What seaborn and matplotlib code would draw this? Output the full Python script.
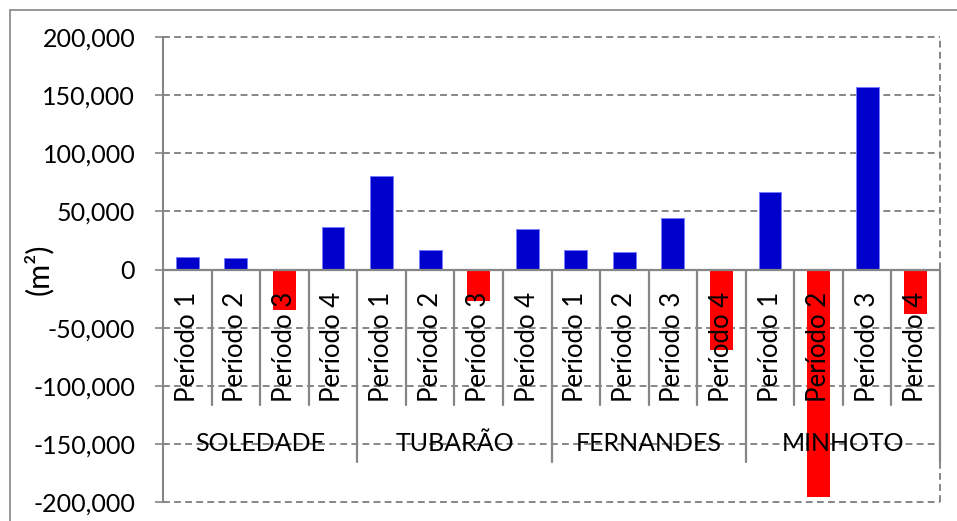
import matplotlib
matplotlib.use("Agg")
import matplotlib.pyplot as plt
from matplotlib.lines import Line2D
from matplotlib.ticker import FuncFormatter, MultipleLocator
import seaborn as sns
import pandas as pd

# Area change per period at each site
sites = ["SOLEDADE", "TUBARÃO", "FERNANDES", "MINHOTO"]
periods = ["Período 1", "Período 2", "Período 3", "Período 4"]
soledade = [10600, 10300, -34500, 36200]
tubarao = [80200, 16400, -27000, 34500]
fernandes = [16700, 14900, 44500, -69000]
minhoto = [66400, -196000, 157400, -38000]

values = soledade + tubarao + fernandes + minhoto
rows = []
for s_i, site in enumerate(sites):
    for p_i, per in enumerate(periods):
        v = values[s_i * 4 + p_i]
        rows.append({"slot": f"{site}|{per}", "site": site, "period": per,
                     "area": v, "sign": "pos" if v >= 0 else "neg"})
df = pd.DataFrame(rows)

sns.set_theme(style="white")
plt.rcParams["font.family"] = ["Lato", "DejaVu Sans"]

GRAY = "#868686"
fig = plt.figure(figsize=(9.57, 5.21), dpi=100)
ax = fig.add_axes([163 / 957, 19 / 521, 777 / 957, 465 / 521])

sns.barplot(data=df, x="slot", y="area", hue="sign", order=list(df["slot"]),
            palette={"pos": "#0000CC", "neg": "#FF0000"}, width=0.47,
            legend=False, ax=ax, zorder=3, saturation=1)
for patch in ax.patches:
    if patch.get_height() > 0:
        patch.set_edgecolor("#7a7aff")
        patch.set_linewidth(0.7)
    else:
        patch.set_linewidth(0)

ax.set_xlim(-0.5, 15.5)
ax.set_ylim(-200000, 200000)
ax.yaxis.set_major_locator(MultipleLocator(50000))
ax.yaxis.set_major_formatter(FuncFormatter(lambda v, p: f"{v:,.0f}"))
ax.tick_params(axis="y", labelsize=18, length=6, width=1.2, color=GRAY,
               pad=14, left=True, labelcolor="black")
ax.set_xticks([])
ax.set_xlabel("")

# dashed horizontal gridlines and right border
dash = (0, (3.5, 2.2))
ax.yaxis.grid(True, color=GRAY, linestyle=dash, linewidth=1.4, zorder=0)
for gl in ax.get_ygridlines():
    gl.set_clip_on(False)
ax.axvline(15.5, color=GRAY, linestyle=dash, linewidth=1.4, clip_on=False, zorder=1)
ax.set_axisbelow(True)

for side in ["top", "right", "bottom"]:
    ax.spines[side].set_visible(False)
ax.spines["left"].set_color(GRAY)
ax.spines["left"].set_linewidth(1.5)

# category axis at zero
ax.axhline(0, color=GRAY, linewidth=1.6, zorder=4)

# separators between periods and between sites
for i in range(16):
    x = i + 0.5
    if i == 15 or (i + 1) % 4 == 0:
        ax.plot([x, x], [0, -165500], color=GRAY, linewidth=1.6, zorder=4, clip_on=False)
    else:
        ax.plot([x, x], [0, -116500], color=GRAY, linewidth=1.6, zorder=4)

# period labels along the zero line
for i, per in enumerate(df["period"]):
    ax.text(i, -19000, per, rotation=90, ha="center", va="top",
            fontsize=18.5, color="black", zorder=5)

# site labels
for s_i, site in enumerate(sites):
    ax.text(s_i * 4 + 1.5, -150000, site, ha="center", va="center",
            fontsize=18, color="black", zorder=5)

ax.set_ylabel("(m²)", fontsize=22, va="center", color="black")
ax.yaxis.set_label_coords(-0.161, 0.5)

# chart frame
fig.add_artist(Line2D([10 / 957, 10 / 957], [0, 1 - 10 / 521],
                      transform=fig.transFigure, color=GRAY, linewidth=1.2))
fig.add_artist(Line2D([10 / 957, 1], [1 - 10 / 521, 1 - 10 / 521],
                      transform=fig.transFigure, color=GRAY, linewidth=1.2))

fig.savefig("out.png", dpi=100, facecolor="white")
